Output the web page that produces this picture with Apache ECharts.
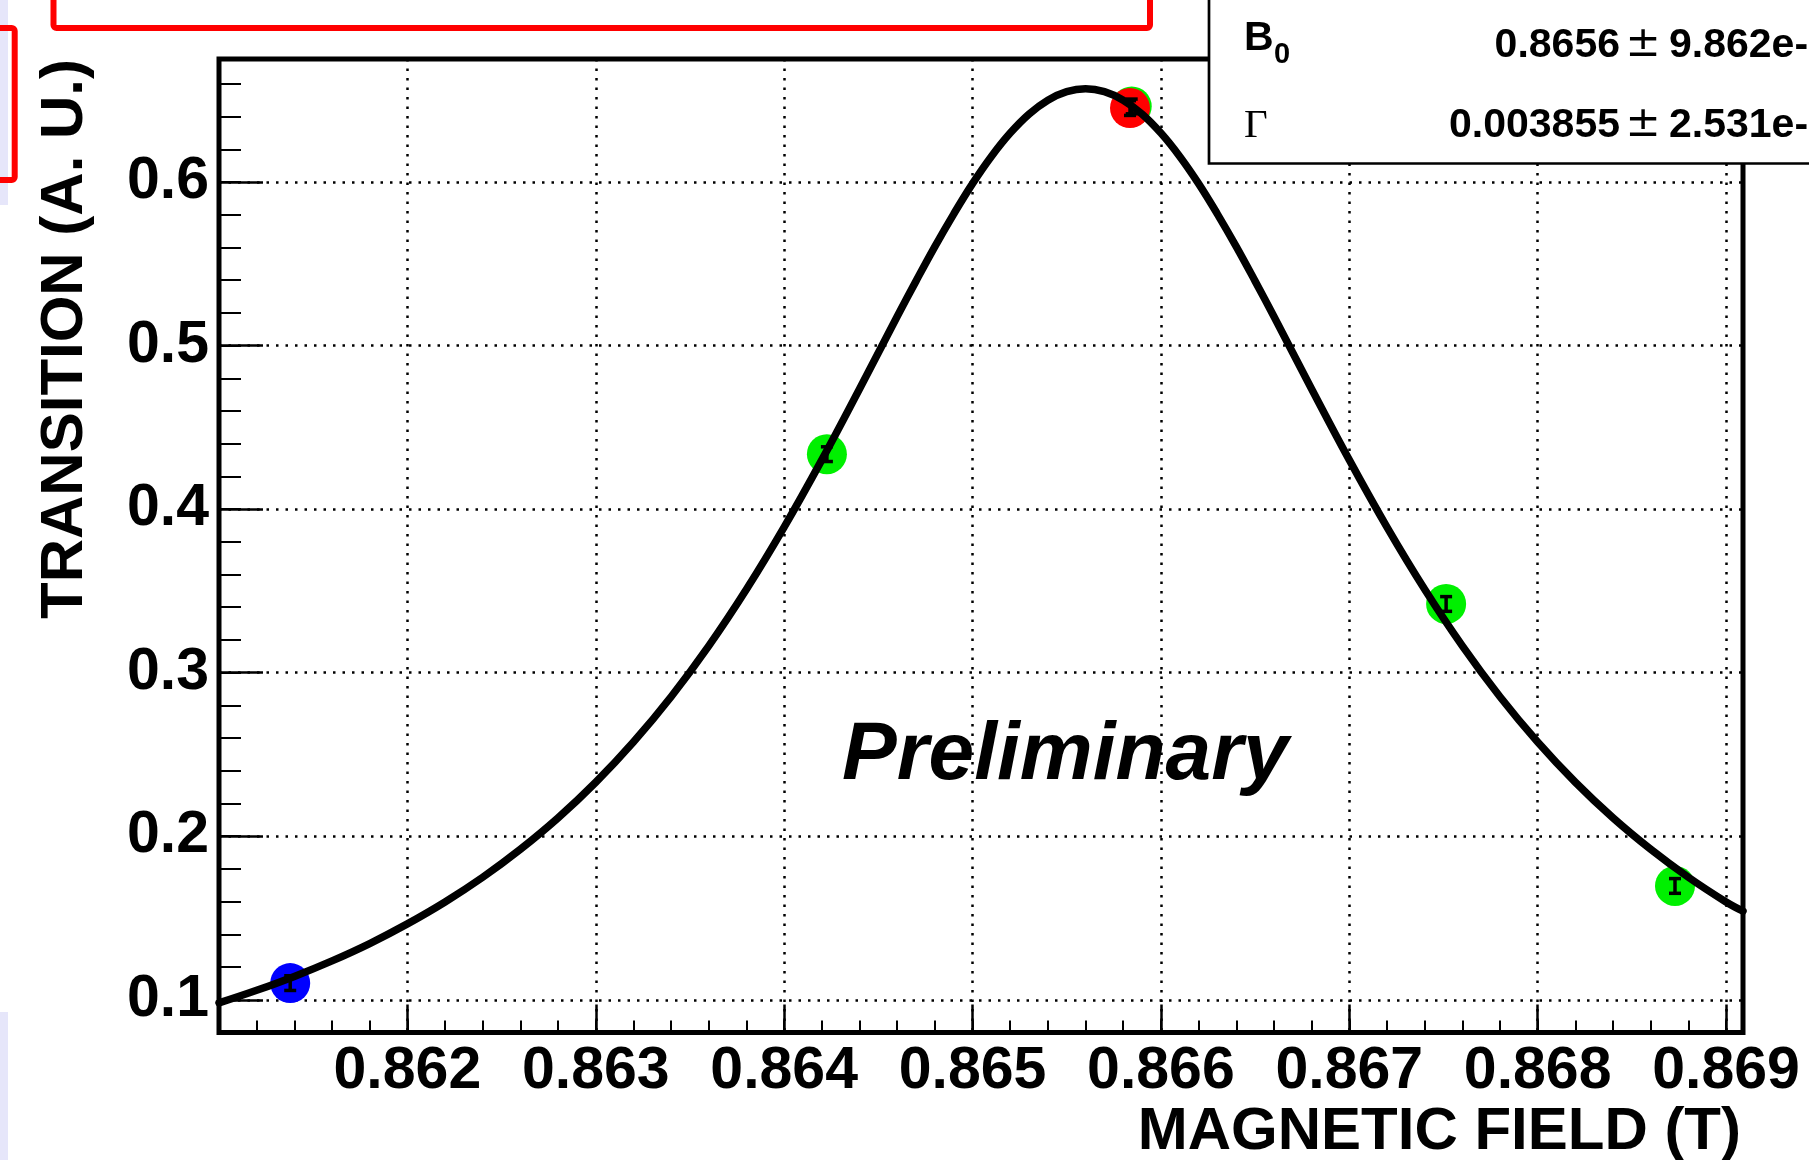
<!DOCTYPE html>
<html><head><meta charset="utf-8">
<script src="https://cdn.jsdelivr.net/npm/echarts@6/dist/echarts.min.js"></script>
<style>html,body{margin:0;padding:0;background:#fff}#c{width:1809px;height:1160px}</style>
</head><body><div id="c"></div>
<script>
// ---- data ----
const curveX = [0.8610,0.8612,0.8614,0.8616,0.8618,0.8620,0.8622,0.8624,0.8626,0.8628,0.8630,0.8632,0.8634,0.8636,0.8638,0.8640,0.8642,0.8644,
  0.8646,0.8647,0.8648,0.8649,0.8650,0.8651,0.8652,0.8653,0.8654,0.8655,0.8656,0.8657,0.8658,0.8659,0.8660,0.8661,0.8662,0.8663,0.8664,0.8665,0.8666,
  0.8668,0.8670,0.8672,0.8674,0.8676,0.8678,0.8680,0.8682,0.8684,0.8686,0.8688,0.8690,0.86909];
const curveY = [0.0981,0.1058,0.1143,0.1238,0.1344,0.1464,0.1598,0.1749,0.1920,0.2112,0.2330,0.2576,0.2853,0.3164,0.3510,0.3890,0.4301,0.4735,
  0.5177,0.5394,0.5605,0.5804,0.5990,0.6156,0.6299,0.6415,0.6500,0.6552,0.6570,0.6552,0.6500,0.6415,0.6299,0.6156,0.5990,0.5804,0.5605,0.5394,0.5177,
  0.4735,0.4301,0.3890,0.3510,0.3164,0.2853,0.2576,0.2330,0.2112,0.1920,0.1749,0.1598,0.1542];
const greenX = [0.864227, 0.865845, 0.867514, 0.868729];
const greenY = [0.4336, 0.6462, 0.3420, 0.1696];
const greenErr = [0.0045, 0.0045, 0.0045, 0.0045];
const redX = [0.865836];
const redY = [0.6452];
const redErr = [0.0045];
const blueX = [0.861378];
const blueY = [0.1102];
const blueErr = [0.0045];
const xTickLabels = ['0.862','0.863','0.864','0.865','0.866','0.867','0.868','0.869'];
const yTickLabels = ['0.1','0.2','0.3','0.4','0.5','0.6'];
const xTitle = 'MAGNETIC FIELD (T)';
const yTitle = 'TRANSITION (A. U.)';
const statNames = ['B', 'Γ'];
const statValues = ['0.8656', '0.003855'];
const statErrors = ['9.862e-06', '2.531e-05'];
const watermark = 'Preliminary';

// ---- chart ----
const FONT = '"Liberation Sans", Arial, Helvetica, sans-serif';
const XMIN = 0.861, XMAX = 0.86909, YMIN = 0.08, YMAX = 0.6752;
const chart = echarts.init(document.getElementById('c'), null, {renderer: 'canvas'});
const pairs = (xs, ys, es) => xs.map((x, i) => es ? [x, ys[i], es[i]] : [x, ys[i]]);

function xFmt(v) {
  const s = v.toFixed(3);
  return (Math.abs(v - Number(s)) < 1e-7 && xTickLabels.includes(s)) ? s : '';
}
function yFmt(v) {
  const s = v.toFixed(1);
  return (Math.abs(v - Number(s)) < 1e-7 && yTickLabels.includes(s)) ? s : '';
}
const dotted = {color: '#000', width: 2.5, type: [2.5, 7]};
const labelStyle = {color: '#000', fontSize: 59, fontWeight: 'bold', fontFamily: FONT};

function errRender(params, api) {
  const x = api.value(0), y = api.value(1), e = api.value(2);
  const t = api.coord([x, y + e]), b = api.coord([x, y - e]);
  const hw = 6, st = {stroke: '#000', lineWidth: 3.5};
  return {type: 'group', children: [
    {type: 'line', shape: {x1: t[0], y1: t[1], x2: b[0], y2: b[1]}, style: st},
    {type: 'line', shape: {x1: t[0] - hw, y1: t[1], x2: t[0] + hw, y2: t[1]}, style: st},
    {type: 'line', shape: {x1: b[0] - hw, y1: b[1], x2: b[0] + hw, y2: b[1]}, style: st}
  ]};
}

const option = {
  backgroundColor: '#fff',
  animation: false,
  grid: {left: 219, right: 66, top: 59, bottom: 127.5, show: true, borderColor: '#000', borderWidth: 5, backgroundColor: 'transparent', containLabel: false},
  xAxis: [
    {type: 'value', position: 'bottom', min: XMIN, max: XMAX, interval: 0.001,
     axisLine: {show: false},
     axisTick: {show: true, inside: true, length: 28, lineStyle: {color: '#000', width: 2.5}},
     axisLabel: Object.assign({formatter: xFmt, margin: 10}, labelStyle),
     splitLine: {show: true, lineStyle: dotted}},
    {type: 'value', position: 'bottom', offset: 0, min: XMIN, max: XMAX, interval: 0.0002,
     axisLine: {show: false},
     axisTick: {show: true, inside: true, length: 12, lineStyle: {color: '#000', width: 2}},
     axisLabel: {show: false}, splitLine: {show: false}}
  ],
  yAxis: [
    {type: 'value', position: 'left', min: YMIN, max: YMAX, splitNumber: 5,
     axisLine: {show: false},
     axisTick: {show: true, inside: true, length: 44, lineStyle: {color: '#000', width: 2.5}},
     axisLabel: Object.assign({formatter: yFmt, margin: 10}, labelStyle),
     splitLine: {show: true, lineStyle: dotted}},
    {type: 'value', position: 'left', offset: 0, min: YMIN, max: YMAX, interval: 0.02,
     axisLine: {show: false},
     axisTick: {show: true, inside: true, length: 22, lineStyle: {color: '#000', width: 2}},
     axisLabel: {show: false}, splitLine: {show: false}}
  ],
  series: [
    {type: 'scatter', name: 'green', data: pairs(greenX, greenY), symbol: 'circle', symbolSize: 40, itemStyle: {color: '#00f000', opacity: 1}, z: 3},
    {type: 'scatter', name: 'red', data: pairs(redX, redY), symbol: 'circle', symbolSize: 40, itemStyle: {color: '#ff0000', opacity: 1}, z: 3},
    {type: 'scatter', name: 'blue', data: pairs(blueX, blueY), symbol: 'circle', symbolSize: 40, itemStyle: {color: '#0000ff', opacity: 1}, z: 3},
    {type: 'custom', data: pairs(greenX, greenY, greenErr).concat(pairs(redX, redY, redErr), pairs(blueX, blueY, blueErr)), renderItem: errRender, z: 4},
    {type: 'line', name: 'fit', data: pairs(curveX, curveY), smooth: 0.4, showSymbol: false, symbol: 'none', lineStyle: {color: '#000', width: 7.5, join: 'round', cap: 'round'}, z: 5, clip: true}
  ],
  graphic: [
    {type: 'rect', shape: {x: 0, y: 0, width: 8, height: 205}, style: {fill: '#e6e6fa'}, z: 50, silent: true},
    {type: 'rect', shape: {x: 0, y: 1012, width: 8, height: 148}, style: {fill: '#e6e6fa'}, z: 50, silent: true},
    {type: 'rect', shape: {x: 53.5, y: -20, width: 1096.5, height: 48, r: 3}, style: {fill: 'none', stroke: '#ff0000', lineWidth: 6}, z: 51, silent: true},
    {type: 'rect', shape: {x: -20, y: 28, width: 34.7, height: 152, r: 3}, style: {fill: 'none', stroke: '#ff0000', lineWidth: 6}, z: 51, silent: true},
    {type: 'rect', shape: {x: 1209, y: -10, width: 700, height: 173.5}, style: {fill: '#fff', stroke: '#000', lineWidth: 2.7}, z: 60, silent: true},
    {type: 'text', x: 1244, y: 39, style: {text: statNames[0], font: 'bold 41px ' + FONT, fill: '#000', textAlign: 'left', textVerticalAlign: 'middle'}, z: 61},
    {type: 'text', x: 1274, y: 55, style: {text: '0', font: 'bold 29px ' + FONT, fill: '#000', textAlign: 'left', textVerticalAlign: 'middle'}, z: 61},
    {type: 'text', x: 1620, y: 46, style: {text: statValues[0], font: 'bold 41px ' + FONT, fill: '#000', textAlign: 'right', textVerticalAlign: 'middle'}, z: 61},
    {type: 'text', x: 1643, y: 45, style: {text: '±', font: '42px "DejaVu Sans", sans-serif', fill: '#000', textAlign: 'center', textVerticalAlign: 'middle'}, z: 61},
    {type: 'text', x: 1669, y: 46, style: {text: statErrors[0], font: 'bold 41px ' + FONT, fill: '#000', textAlign: 'left', textVerticalAlign: 'middle'}, z: 61},
    {type: 'text', x: 1244, y: 126.5, style: {text: statNames[1], font: '41px "Liberation Serif", serif', fill: '#000', textAlign: 'left', textVerticalAlign: 'middle'}, z: 61},
    {type: 'text', x: 1620, y: 126, style: {text: statValues[1], font: 'bold 41px ' + FONT, fill: '#000', textAlign: 'right', textVerticalAlign: 'middle'}, z: 61},
    {type: 'text', x: 1643, y: 125, style: {text: '±', font: '42px "DejaVu Sans", sans-serif', fill: '#000', textAlign: 'center', textVerticalAlign: 'middle'}, z: 61},
    {type: 'text', x: 1669, y: 126, style: {text: statErrors[1], font: 'bold 41px ' + FONT, fill: '#000', textAlign: 'left', textVerticalAlign: 'middle'}, z: 61},
    {type: 'text', x: 842, y: 756, style: {text: watermark, font: 'italic bold 82px ' + FONT, fill: '#000', textAlign: 'left', textVerticalAlign: 'middle'}, z: 40},
    {type: 'text', x: 1741, y: 1132, style: {text: xTitle, font: 'bold 60px ' + FONT, fill: '#000', textAlign: 'right', textVerticalAlign: 'middle'}, z: 40},
    {type: 'text', x: 65, y: 59, rotation: Math.PI / 2, style: {text: yTitle, font: 'bold 60px ' + FONT, fill: '#000', textAlign: 'right', textVerticalAlign: 'middle'}, z: 40}
  ]
};
chart.setOption(option);
</script>
</body></html>
